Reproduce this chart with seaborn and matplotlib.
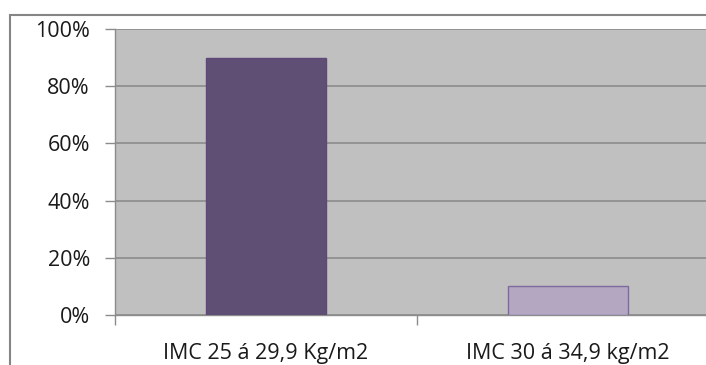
import matplotlib
matplotlib.use("Agg")
import matplotlib.pyplot as plt
import matplotlib.patches as mpatches
from matplotlib.ticker import PercentFormatter, FixedLocator
import seaborn as sns

categories = ["IMC 25 á 29,9 Kg/m2", "IMC 30 á 34,9 kg/m2"]
values = [0.90, 0.10]
y_ticks = [0, 0.2, 0.4, 0.6, 0.8, 1.0]

sns.set_style("white")
plt.rcParams["font.family"] = ["Open Sans", "DejaVu Sans"]

fig = plt.figure(figsize=(7.06, 3.65), dpi=100)
ax = fig.add_axes([115 / 706, 1 - 315 / 365, 1 - 115 / 706, (315 - 29) / 365])
ax.set_facecolor("#c0c0c0")

sns.barplot(x=categories, y=values, hue=categories, palette=["#5f497a", "#b2a2c7"],
            width=0.4, legend=False, ax=ax, zorder=3)
for patch, ec in zip(ax.patches, ["#5f497a", "#7e6a9e"]):
    patch.set_edgecolor(ec)
    patch.set_linewidth(1.0)

ax.set_ylim(0, 1.0)
ax.set_xlim(-0.5, -0.5 + 591 / 302)
ax.yaxis.set_major_locator(FixedLocator(y_ticks))
ax.yaxis.set_major_formatter(PercentFormatter(1.0, decimals=0))
ax.grid(axis="y", color="#8c8c8c", lw=1.2, zorder=0)
ax.set_axisbelow(True)

ax.xaxis.set_minor_locator(FixedLocator([-0.5, 0.5, 1.5]))
ax.tick_params(axis="x", which="major", length=0, pad=20, labelsize=15.5, labelcolor="#1a1a1a")
ax.tick_params(axis="x", which="minor", length=7, width=1, color="#8c8c8c", direction="out", bottom=True)
ax.tick_params(axis="y", length=7, width=1, color="#8c8c8c", direction="out", pad=11,
               labelsize=15.5, labelcolor="#1a1a1a", left=True)
ax.set_xlabel("")
ax.set_ylabel("")

for side in ["top", "right"]:
    ax.spines[side].set_visible(False)
for side in ["left", "bottom"]:
    ax.spines[side].set_color("#8c8c8c")
    ax.spines[side].set_linewidth(1)

# outer chart border (cut off at right and bottom)
border = mpatches.Rectangle((9.5 / 706, -0.1), 1.2, 1 - 14.5 / 365 + 0.1, transform=fig.transFigure,
                            fill=False, edgecolor="#858585", lw=1.5, clip_on=False)
fig.patches.append(border)

fig.savefig("out.png", dpi=100)
